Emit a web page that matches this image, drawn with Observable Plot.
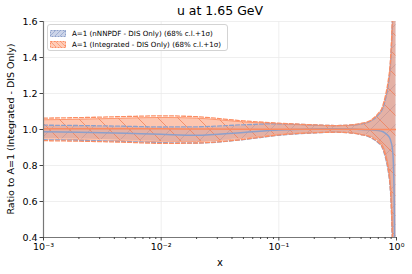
<!DOCTYPE html>
<html><head><meta charset="utf-8">
<script src="https://cdn.jsdelivr.net/npm/d3@7"></script>
<script src="https://cdn.jsdelivr.net/npm/@observablehq/plot@0.6"></script>
<style>
body{margin:0;background:#fff;font-family:"DejaVu Sans",sans-serif;color:#000;}
#wrap{position:relative;width:412px;height:274px;overflow:hidden;}
#title{position:absolute;left:0;width:440px;top:3px;text-align:center;font-size:12.5px;line-height:15px;}
#ylab{position:absolute;left:10px;top:129px;transform:translate(-50%,-50%) rotate(-90deg);white-space:nowrap;font-size:9.5px;}
#xlab{position:absolute;left:220px;top:262px;transform:translate(-50%,-50%);font-size:10px;}
#legend{position:absolute;left:47px;top:24px;width:181px;height:27px;border:1px solid #d3d3d3;border-radius:3px;background:rgba(255,255,255,0.85);box-sizing:border-box;}
.row{position:absolute;left:2px;height:10px;display:flex;align-items:center;font-size:7.1px;white-space:nowrap;}
.row svg{margin-right:6px;}
</style></head><body>
<div id="wrap">
<div id="chart"></div>
<div id="title">u at 1.65 GeV</div>
<div id="ylab">Ratio to A=1 (Integrated - DIS Only)</div>
<div id="xlab">x</div>
<div id="legend"></div>
</div>
<script>
// x grid of the curves
const xs = [0.001, 0.002, 0.005, 0.01, 0.02, 0.05, 0.1, 0.2, 0.3, 0.4, 0.5, 0.6, 0.7, 0.75, 0.8, 0.85, 0.88, 0.9, 0.92, 0.94, 0.96, 0.98, 0.99];
// Integrated - DIS only (reference)
const orangeMid  = [1.004,1.004,1.004,1.004,1.003,1.002,1.002,1.002,1.002,1.001,1.001,1.0,1.0,1.0,1.0,1.0,1.0,1.0,1.0,1.0,1.0,1.0,1.0];
const orangeHiSig= [1.063,1.066,1.072,1.076,1.071,1.048,1.035,1.026,1.022,1.025,1.034,1.05,1.09,1.117,1.18,1.27,1.35,1.45,1.6,1.85,2.3,3.0,3.5];
const orangeLoSig= [0.938,0.935,0.929,0.923,0.925,0.945,0.97,0.982,0.985,0.982,0.972,0.958,0.93,0.91,0.86,0.78,0.7,0.6,0.42,0.15,-0.3,-1.0,-1.5];
const orange68Hi = [1.054,1.057,1.063,1.067,1.063,1.042,1.031,1.023,1.02,1.022,1.03,1.045,1.08,1.105,1.16,1.24,1.31,1.4,1.53,1.75,2.2,2.9,3.4];
const orange68Lo = [0.947,0.944,0.938,0.932,0.933,0.951,0.974,0.985,0.988,0.985,0.976,0.963,0.938,0.92,0.875,0.8,0.73,0.64,0.48,0.22,-0.2,-0.9,-1.4];
// nNNPDF - DIS only
const blueMid    = [0.987,0.985,0.979,0.973,0.968,0.984,0.997,1.003,1.004,1.003,1.0,0.998,0.995,0.99,0.98,0.965,0.95,0.93,0.9,0.82,0.5,-0.5,-1.0];
const blueHiSig  = [1.024,1.022,1.018,1.014,1.015,1.026,1.032,1.025,1.022,1.024,1.031,1.046,1.08,1.105,1.16,1.25,1.33,1.43,1.58,1.85,2.3,3.0,3.5];
const blueLoSig  = [0.943,0.94,0.933,0.927,0.925,0.944,0.968,0.981,0.985,0.982,0.972,0.956,0.926,0.905,0.85,0.77,0.69,0.59,0.4,0.1,-0.4,-1.0,-1.5];
const blue68Hi   = [1.018,1.016,1.012,1.008,1.009,1.02,1.028,1.022,1.02,1.021,1.027,1.04,1.07,1.09,1.14,1.22,1.29,1.38,1.52,1.75,2.2,2.9,3.4];
const blue68Lo   = [0.95,0.947,0.94,0.934,0.932,0.95,0.972,0.984,0.988,0.985,0.976,0.962,0.935,0.915,0.865,0.79,0.72,0.63,0.45,0.18,-0.3,-0.9,-1.4];

const xTicks = [0.001, 0.01, 0.1, 1];
const yTicks = [0.4, 0.6, 0.8, 1.0, 1.2, 1.4, 1.6];
const seriesLabels = ["A=1 (nNNPDF - DIS Only) (68% c.l.+1σ)", "A=1 (Integrated - DIS Only) (68% c.l.+1σ)"];
const BLUE = "#8da0cb", ORANGE = "#fc8d62";

const rows = xs.map((x, i) => ({x,
  om: orangeMid[i], ohs: orangeHiSig[i], ols: orangeLoSig[i], oh: orange68Hi[i], ol: orange68Lo[i],
  bm: blueMid[i], bhs: blueHiSig[i], bls: blueLoSig[i], bh: blue68Hi[i], bl: blue68Lo[i]}));

const minor = [];
for (const d of [0.001, 0.01, 0.1]) for (let k = 2; k <= 9; k++) minor.push(d * k);
const sup = s => String(s).replace(/-/g, "⁻").replace(/\d/g, c => "⁰¹²³⁴⁵⁶⁷⁸⁹"[+c]);
const fmtX = v => "10" + sup(Math.round(Math.log10(v)));
const curve = "monotone-x";

const svg = Plot.plot({
  width: 412, height: 274,
  marginTop: 21, marginBottom: 37, marginLeft: 43, marginRight: 16,
  style: {fontFamily: "DejaVu Sans", fontSize: "9.5px", color: "#000", background: "transparent"},
  x: {type: "log", domain: [0.001, 1]},
  y: {domain: [0.4, 1.6]},
  marks: [
    Plot.gridY(yTicks, {stroke: "#ebebeb", strokeOpacity: 1, strokeWidth: 0.8}),
    Plot.gridX([0.01, 0.1], {stroke: "#ebebeb", strokeOpacity: 1, strokeWidth: 0.8}),
    Plot.areaY(rows, {x: "x", y1: "bl", y2: "bh", fill: BLUE, fillOpacity: 0.45, curve, clip: true}),
    Plot.areaY(rows, {x: "x", y1: "bl", y2: "bh", fill: "url(#hatchB)", curve, clip: true}),
    Plot.areaY(rows, {x: "x", y1: "ol", y2: "oh", fill: ORANGE, fillOpacity: 0.5, curve, clip: true}),
    Plot.areaY(rows, {x: "x", y1: "ol", y2: "oh", fill: "url(#hatchO)", curve, clip: true}),
    Plot.lineY(rows, {x: "x", y: "oh", stroke: ORANGE, strokeWidth: 1, strokeOpacity: 0.8, curve, clip: true}),
    Plot.lineY(rows, {x: "x", y: "ol", stroke: ORANGE, strokeWidth: 1, strokeOpacity: 0.8, curve, clip: true}),
    Plot.lineY(rows, {x: "x", y: "bhs", stroke: BLUE, strokeWidth: 1.3, strokeDasharray: "4,2", curve, clip: true}),
    Plot.lineY(rows, {x: "x", y: "bls", stroke: BLUE, strokeWidth: 1.3, strokeDasharray: "4,2", curve, clip: true}),
    Plot.lineY(rows, {x: "x", y: "ohs", stroke: ORANGE, strokeWidth: 1.3, strokeDasharray: "4,2", curve, clip: true}),
    Plot.lineY(rows, {x: "x", y: "ols", stroke: ORANGE, strokeWidth: 1.3, strokeDasharray: "4,2", curve, clip: true}),
    Plot.lineY(rows, {x: "x", y: "bm", stroke: BLUE, strokeWidth: 1.5, curve, clip: true}),
    Plot.lineY(rows, {x: "x", y: "om", stroke: ORANGE, strokeWidth: 1.5, curve, clip: true}),
    Plot.ruleX([0.001], {stroke: "#777", strokeWidth: 1.2}),
    Plot.ruleY([0.4], {stroke: "#777", strokeWidth: 1.2}),
    Plot.axisX({ticks: minor, tickSize: 2, tickFormat: () => "", label: null, stroke: "#444"}),
    Plot.axisX({ticks: xTicks, tickSize: 3.5, tickPadding: 2.5, tickFormat: fmtX, label: null, fontSize: 9.5, stroke: "#444"}),
    Plot.axisY({ticks: yTicks, tickSize: 3.5, tickPadding: 2.5, tickFormat: d3.format(".1f"), label: null, fontSize: 9.5, stroke: "#444"})
  ]
});

const defs = d3.select(svg).insert("defs", ":first-child");
const pb = defs.append("pattern").attr("id", "hatchB").attr("patternUnits", "userSpaceOnUse").attr("width", 20).attr("height", 20);
pb.append("path").attr("d", "M-2,2 L2,-2 M0,20 L20,0 M18,22 L22,18").attr("stroke", BLUE).attr("stroke-width", 0.7).attr("fill", "none");
const po = defs.append("pattern").attr("id", "hatchO").attr("patternUnits", "userSpaceOnUse").attr("width", 20).attr("height", 20);
po.append("path").attr("d", "M-2,18 L2,22 M0,0 L20,20 M18,-2 L22,2").attr("stroke", "#f07a50").attr("stroke-width", 0.7).attr("fill", "none");

document.getElementById("chart").appendChild(svg);

// legend
const leg = d3.select("#legend");
const cols = [BLUE, ORANGE];
const hatches = ["M0,6 L6,0 M5,6 L11,0 M10,6 L16,0", "M0,0 L6,6 M5,0 L11,6 M10,0 L16,6"];
seriesLabels.forEach((lab, i) => {
  const r = leg.append("div").attr("class", "row").style("top", (i === 0 ? 3 : 14) + "px");
  const s = r.append("svg").attr("width", 16).attr("height", 7);
  s.append("rect").attr("x", 0.5).attr("y", 0.5).attr("width", 15).attr("height", 6)
    .attr("fill", cols[i]).attr("fill-opacity", 0.45).attr("stroke", cols[i]).attr("stroke-dasharray", "2,1");
  s.append("path").attr("d", hatches[i]).attr("stroke", cols[i]).attr("stroke-width", 0.7);
  r.append("span").text(lab);
});
</script>
</body></html>
